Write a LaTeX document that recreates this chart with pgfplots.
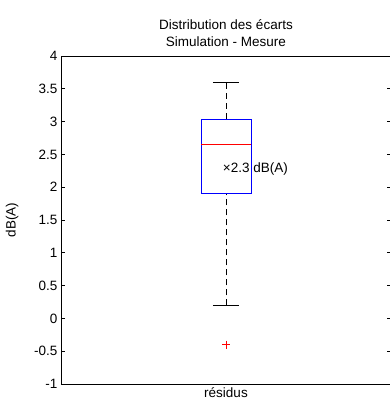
\documentclass[border=0pt]{standalone}
\usepackage{fontspec}
\setmainfont{Liberation Sans}
\usepackage{pgfplots}
\pgfplotsset{compat=1.18}
\begin{document}
\begin{tikzpicture}[x=1pt,y=1pt]
\useasboundingbox (0,0) rectangle (389,403);
\fill[white] (0,0) rectangle (389,403);
\begin{axis}[at={(61pt,19pt)}, anchor=south west, scale only axis,
  width=330pt, height=328pt,
  xmin=0.5, xmax=1.5, ymin=-1, ymax=4,
  xtick={1}, xticklabels={résidus}, x tick style={draw=none},
  ytick={-1,-0.5,0,0.5,1,1.5,2,2.5,3,3.5,4},
  yticklabels={-1,-0.5,0,0.5,1,1.5,2,2.5,3,3.5,4},
  tick align=inside, major tick length=4pt,
  y tick style={black, line width=0.6pt},
  axis line style={line width=0.8pt},
  font=\fontsize{13.5}{16}\selectfont,
  ylabel={dB(A)},
  ylabel style={at={(axis description cs:-0.148,0.5)}, anchor=center},
  title={Distribution des écarts\\Simulation - Mesure},
  title style={align=center, font=\fontsize{13.5}{17}\selectfont},
]
\addplot[blue, line width=0.6pt] coordinates {(0.924,1.9)(1.076,1.9)(1.076,3.04)(0.924,3.04)(0.924,1.9)};
\addplot[red, line width=0.6pt] coordinates {(0.924,2.65)(1.076,2.65)};
\addplot[black, line width=0.6pt, dash pattern=on 6pt off 4pt] coordinates {(1,3.04)(1,3.6)};
\addplot[black, line width=0.6pt, dash pattern=on 6pt off 4pt] coordinates {(1,0.2)(1,1.9)};
\addplot[black, line width=0.6pt] coordinates {(0.96,3.6)(1.04,3.6)};
\addplot[black, line width=0.6pt] coordinates {(0.96,0.2)(1.04,0.2)};
\addplot[red, only marks, mark=+, mark size=4pt, line width=0.6pt] coordinates {(1,-0.4)};
\node[anchor=west, inner sep=0pt] at (axis cs:0.99,2.28) {×2.3 dB(A)};
\end{axis}
\end{tikzpicture}
\end{document}
